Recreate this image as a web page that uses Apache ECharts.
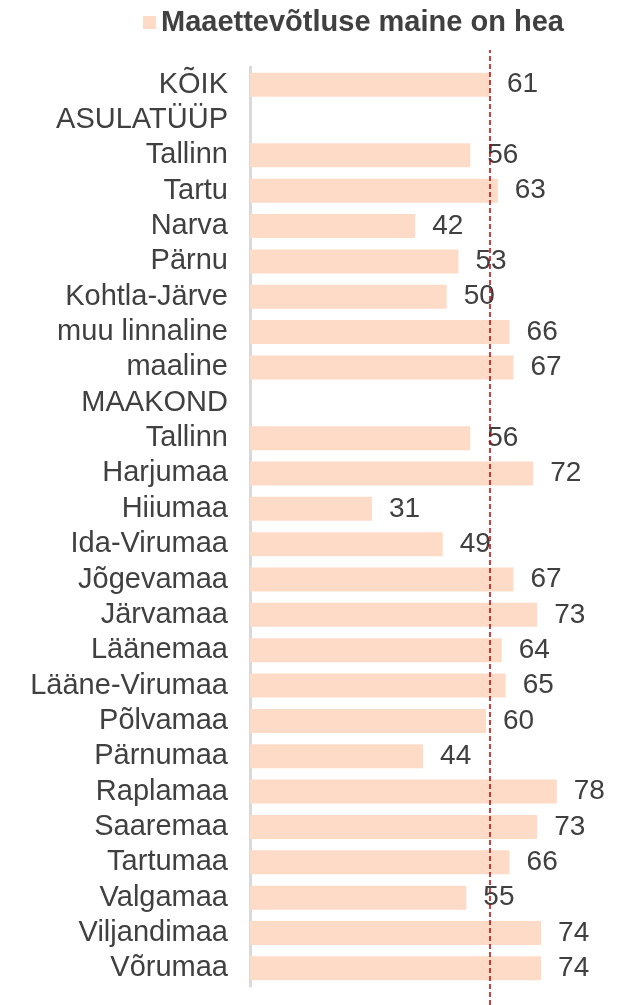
<!DOCTYPE html>
<html><head><meta charset="utf-8">
<script src="https://cdn.jsdelivr.net/npm/echarts@6/dist/echarts.min.js"></script>
<style>html,body{margin:0;padding:0;background:#fff}#c{width:626px;height:1005px}</style>
</head><body><div id="c"></div>
<script>
const categories = ["KÕIK","ASULATÜÜP","Tallinn","Tartu","Narva","Pärnu","Kohtla-Järve","muu linnaline","maaline","MAAKOND","Tallinn","Harjumaa","Hiiumaa","Ida-Virumaa","Jõgevamaa","Järvamaa","Läänemaa","Lääne-Virumaa","Põlvamaa","Pärnumaa","Raplamaa","Saaremaa","Tartumaa","Valgamaa","Viljandimaa","Võrumaa"];
const values = [61,null,56,63,42,53,50,66,67,null,56,72,31,49,67,73,64,65,60,44,78,73,66,55,74,74];
const seriesName = "Maaettevõtluse maine on hea";
const referenceValue = 61;

const FONT = "'Liberation Sans', Arial, sans-serif";
const chart = echarts.init(document.getElementById('c'), null, {renderer:'canvas'});
chart.setOption({
  animation:false,
  textStyle:{fontFamily:FONT},
  legend:{
    data:[seriesName], left:138, top:3, icon:'rect', itemWidth:13, itemHeight:13,
    textStyle:{fontSize:29, fontWeight:'bold', color:'#404040', fontFamily:FONT}
  },
  grid:[
    {left:250, top:67, width:354, height:919, containLabel:false},
    {left:250, top:50, width:354, bottom:0, containLabel:false}
  ],
  xAxis:[
    {gridIndex:0, type:'value', min:0, max:90, show:false},
    {gridIndex:1, type:'value', min:0, max:90, show:false}
  ],
  yAxis:[
    {gridIndex:0, type:'category', data:categories, inverse:true,
     axisLine:{show:true, lineStyle:{color:'#D9D9D9', width:3}},
     axisTick:{show:false}, splitLine:{show:false},
     axisLabel:{interval:0, fontSize:29, color:'#404040', margin:22, fontFamily:FONT}},
    {gridIndex:1, type:'category', data:['a'], show:false}
  ],
  series:[
    {name:seriesName, type:'bar', xAxisIndex:0, yAxisIndex:0, data:values, barWidth:24,
     itemStyle:{color:'#FDDBC7'},
     label:{show:true, position:'right', distance:17, fontSize:28, color:'#404040', fontFamily:FONT}},
    {type:'bar', xAxisIndex:1, yAxisIndex:1, data:[null], silent:true,
     markLine:{symbol:'none', silent:true, label:{show:false},
       lineStyle:{color:'#C00000', type:[5,3], width:1.5},
       data:[{xAxis:referenceValue}]}}
  ]
});
</script></body></html>
